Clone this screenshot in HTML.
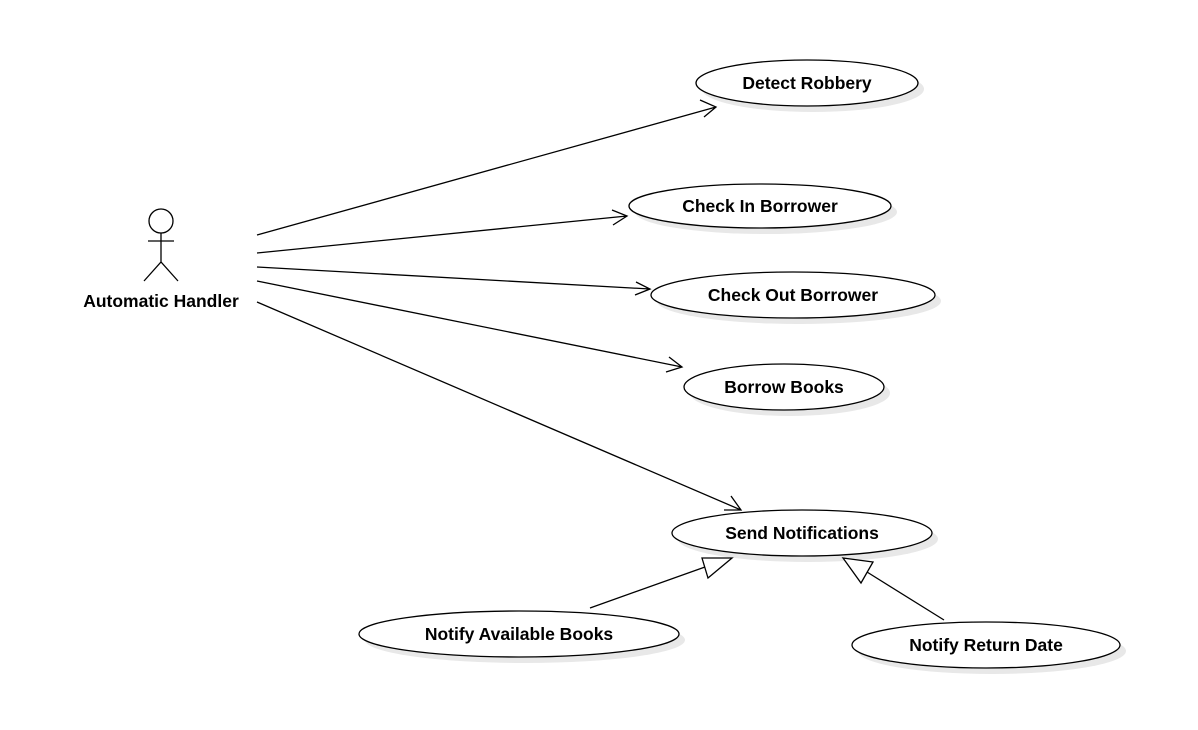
<!DOCTYPE html>
<html><head><meta charset="utf-8"><style>body{margin:0;background:#fff}svg{display:block}</style></head><body>
<svg width="1198" height="730" xmlns="http://www.w3.org/2000/svg" font-family="Liberation Sans, sans-serif" font-weight="bold" font-size="17.5">
<g fill="#e8e8e8">
<ellipse cx="813" cy="89" rx="111" ry="23"/>
<ellipse cx="766" cy="212" rx="131" ry="22"/>
<ellipse cx="799" cy="301" rx="142" ry="23"/>
<ellipse cx="790" cy="393" rx="100" ry="23"/>
<ellipse cx="808" cy="539" rx="130" ry="23"/>
<ellipse cx="525" cy="640" rx="160" ry="23"/>
<ellipse cx="992" cy="651" rx="134" ry="23"/>
</g>
<g fill="#fff" stroke="#000" stroke-width="1.3">
<ellipse cx="807" cy="83" rx="111" ry="23"/>
<ellipse cx="760" cy="206" rx="131" ry="22"/>
<ellipse cx="793" cy="295" rx="142" ry="23"/>
<ellipse cx="784" cy="387" rx="100" ry="23"/>
<ellipse cx="802" cy="533" rx="130" ry="23"/>
<ellipse cx="519" cy="634" rx="160" ry="23"/>
<ellipse cx="986" cy="645" rx="134" ry="23"/>
</g>
<g fill="none" stroke="#000" stroke-width="1.3">
<circle cx="161" cy="221" r="12"/>
<path d="M161 233V262M148 241H174M144 281L161 262L178 281"/>
<path d="M257 235L716 107M700 100L716 107L704 117"/>
<path d="M257 253L627 216M612 210L627 216L613 225"/>
<path d="M257 267L650 289M636 282L650 289L635 295"/>
<path d="M257 281L682 367M669 357L682 367L666 372"/>
<path d="M257 302L741 510M731 496L741 510L724 510"/>
<path d="M590 608L705 567"/>
<path d="M944 620L867 572"/>
<path fill="#fff" d="M732 558L702 558L708 578Z"/>
<path fill="#fff" d="M843 558L873 562L861 583Z"/>
</g>
<g text-anchor="middle" fill="#000">
<text x="161" y="307">Automatic Handler</text>
<text x="807" y="89">Detect Robbery</text>
<text x="760" y="212">Check In Borrower</text>
<text x="793" y="301">Check Out Borrower</text>
<text x="784" y="393">Borrow Books</text>
<text x="802" y="539">Send Notifications</text>
<text x="519" y="640">Notify Available Books</text>
<text x="986" y="651">Notify Return Date</text>
</g>
</svg>
</body></html>
